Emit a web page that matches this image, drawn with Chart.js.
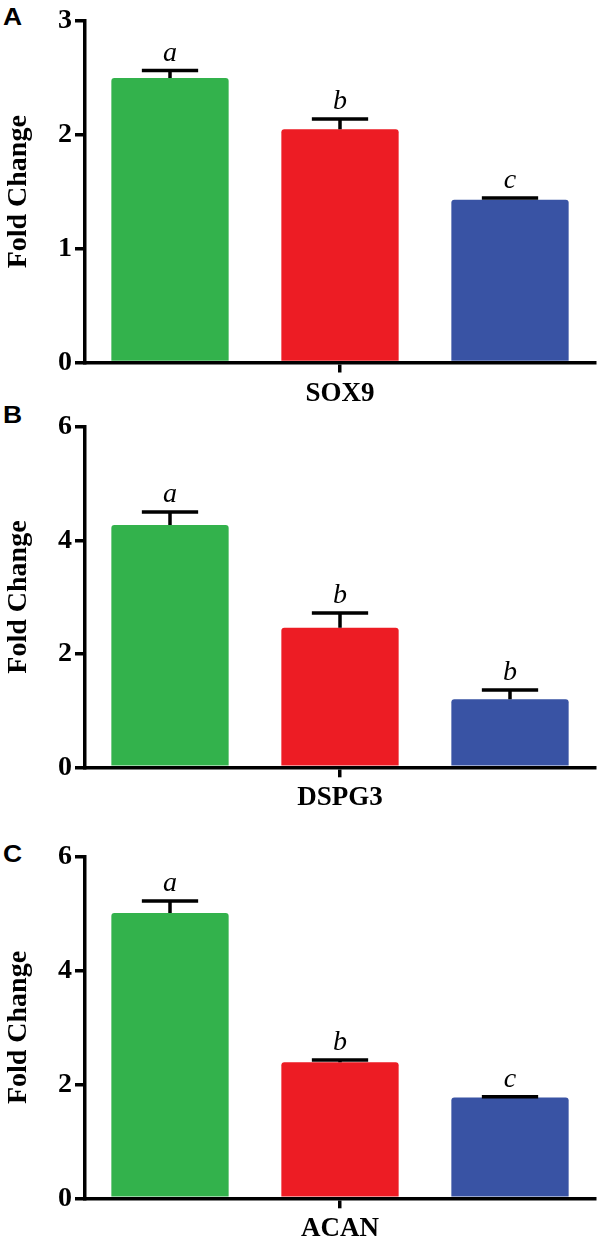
<!DOCTYPE html>
<html>
<head>
<meta charset="utf-8">
<script src="https://cdn.jsdelivr.net/npm/chart.js@4"></script>
<style>
  html, body { margin: 0; padding: 0; background: #fff; }
  body { position: relative; width: 600px; height: 1239px; overflow: hidden; }
  .panel { position: absolute; left: 0; width: 600px; }
  .tag { position: absolute; left: 3px; font-family: "Liberation Sans", Arial, sans-serif; font-weight: bold; font-size: 23px; line-height: 23px; color: #000; transform: scaleX(1.15); transform-origin: left top; }
</style>
</head>
<body>
<div class="tag" style="top:6px">A</div>
<div class="tag" style="top:404px">B</div>
<div class="tag" style="top:843px">C</div>
<div class="panel" style="top:0px"><canvas id="chartA" width="600" height="407"></canvas></div>
<div class="panel" style="top:407px"><canvas id="chartB" width="600" height="405"></canvas></div>
<div class="panel" style="top:812px"><canvas id="chartC" width="600" height="427"></canvas></div>
<script>
// data
const genes = ["SOX9", "DSPG3", "ACAN"]
const groupColors = ["#33b24c", "#ed1c24", "#3953a4"]

const sox9Means = [2.50, 2.05, 1.43]
const sox9Errors = [0.065, 0.09, 0.015]
const sox9Letters = ["a", "b", "c"]

const dspg3Means = [4.27, 2.46, 1.20]
const dspg3Errors = [0.23, 0.26, 0.16]
const dspg3Letters = ["a", "b", "b"]

const acanMeans = [5.01, 2.39, 1.77]
const acanErrors = [0.21, 0.04, 0.015]
const acanLetters = ["a", "b", "c"]

const yMaxes = [3, 6, 6]
const ySteps = [1, 2, 2]

const serif = "'Times New Roman', 'Liberation Serif', serif"

// error bars + significance letters
const errorBars = {
  id: "errorBars",
  afterDatasetsDraw(chart) {
    const ctx = chart.ctx
    const y = chart.scales.y
    chart.data.datasets.forEach((ds, i) => {
      const bar = chart.getDatasetMeta(i).data[0]
      const top = y.getPixelForValue(ds.data[0] + ds.err)
      const half = bar.width * 0.24
      ctx.save()
      ctx.strokeStyle = "#000"
      ctx.lineWidth = 3.5
      ctx.beginPath()
      ctx.moveTo(bar.x, bar.y)
      ctx.lineTo(bar.x, top)
      ctx.moveTo(bar.x - half, top)
      ctx.lineTo(bar.x + half, top)
      ctx.stroke()
      ctx.fillStyle = "#000"
      ctx.font = "italic 28px " + serif
      ctx.textAlign = "center"
      ctx.textBaseline = "alphabetic"
      ctx.fillText(ds.letter, bar.x, top - 10)
      ctx.restore()
    })
  }
}

function makePanel(id, gene, means, errors, letters, yMax, yStep, box) {
  const datasets = means.map((m, i) => ({
    label: "group " + (i + 1),
    data: [m],
    err: errors[i],
    letter: letters[i],
    backgroundColor: groupColors[i],
    borderWidth: 0,
    borderRadius: { topLeft: 3, topRight: 3 },
    borderSkipped: "bottom",
    categoryPercentage: 1.0,
    barPercentage: 0.69
  }))

  new Chart(document.getElementById(id), {
    type: "bar",
    data: { labels: [gene], datasets },
    options: {
      responsive: false,
      animation: false,
      layout: { padding: { top: box.padTop, right: 5, left: 0, bottom: 0 } },
      plugins: { legend: { display: false }, tooltip: { enabled: false } },
      scales: {
        x: {
          afterFit: (s) => { s.height = box.xHeight },
          grid: { offset: false, drawOnChartArea: false, color: "#000", lineWidth: 3.5, tickLength: 10 },
          border: { display: true, color: "#000", width: 3.5, z: 1 },
          ticks: { color: "#000", padding: 5, font: { family: serif, size: 27, weight: "bold" } }
        },
        y: {
          min: 0,
          max: yMax,
          afterFit: (s) => { s.width = 85 },
          grid: { drawOnChartArea: false, color: "#000", lineWidth: 3.5, tickLength: 10 },
          border: { display: true, color: "#000", width: 3.5, z: 1 },
          ticks: { stepSize: yStep, color: "#000", padding: 3, font: { family: serif, size: 28, weight: "bold" } },
          title: {
            display: true,
            text: "Fold Change",
            color: "#000",
            padding: { top: 2, bottom: 0 },
            font: { family: serif, size: 28, weight: "bold" }
          }
        }
      }
    },
    plugins: [errorBars]
  })
}

makePanel("chartA", genes[0], sox9Means, sox9Errors, sox9Letters, yMaxes[0], ySteps[0], { padTop: 21, xHeight: 44.5 })
makePanel("chartB", genes[1], dspg3Means, dspg3Errors, dspg3Letters, yMaxes[1], ySteps[1], { padTop: 19.7, xHeight: 44.7 })
makePanel("chartC", genes[2], acanMeans, acanErrors, acanLetters, yMaxes[2], ySteps[2], { padTop: 44.7, xHeight: 40.7 })
</script>
</body>
</html>
